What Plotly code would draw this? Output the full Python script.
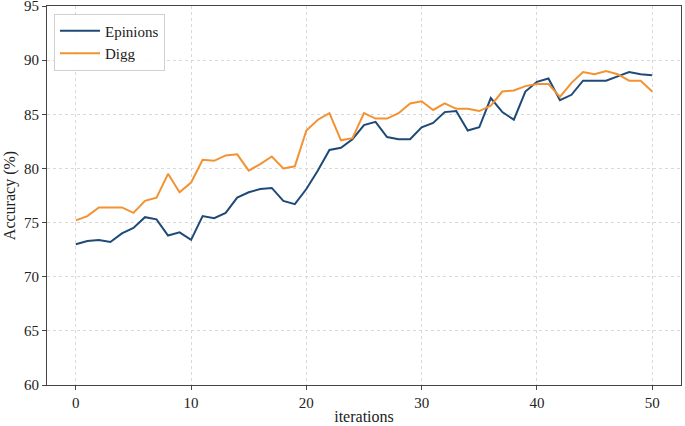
import plotly.graph_objects as go

iterations = list(range(51))
epinions = [73.0, 73.3, 73.4, 73.2, 74.0, 74.5, 75.5, 75.3, 73.8, 74.1,
            73.4, 75.6, 75.4, 75.9, 77.3, 77.8, 78.1, 78.2, 77.0, 76.7,
            78.1, 79.8, 81.7, 81.9, 82.7, 84.0, 84.3, 82.9, 82.7, 82.7,
            83.8, 84.2, 85.2, 85.3, 83.5, 83.8, 86.5, 85.2, 84.5, 87.1,
            88.0, 88.3, 86.3, 86.8, 88.1, 88.1, 88.1, 88.5, 88.9, 88.7,
            88.6]
digg = [75.2, 75.6, 76.4, 76.4, 76.4, 75.9, 77.0, 77.3, 79.5, 77.8,
        78.7, 80.8, 80.7, 81.2, 81.3, 79.8, 80.4, 81.1, 80.0, 80.2,
        83.5, 84.5, 85.1, 82.6, 82.8, 85.1, 84.6, 84.6, 85.1, 86.0,
        86.2, 85.4, 86.0, 85.5, 85.5, 85.3, 85.8, 87.1, 87.2, 87.6,
        87.8, 87.8, 86.6, 87.9, 88.9, 88.7, 89.0, 88.7, 88.1, 88.1,
        87.1]

FONT = "Liberation Serif"

fig = go.Figure()
fig.add_trace(go.Scatter(x=iterations, y=epinions, mode="lines", name="Epinions",
                         line=dict(color="#1f4a78", width=2)))
fig.add_trace(go.Scatter(x=iterations, y=digg, mode="lines", name="Digg",
                         line=dict(color="#f39232", width=2)))

axis_common = dict(showline=True, linecolor="#444444", linewidth=1, mirror=True,
                   ticks="outside", ticklen=4, tickcolor="#444444",
                   showgrid=True, gridcolor="#d9d9d9", griddash="3px,3px", gridwidth=1,
                   zeroline=False, automargin=False, ticklabeloverflow="allow",
                   tickfont=dict(family=FONT, size=15, color="#222222"))

fig.update_layout(
    width=685, height=426,
    margin=dict(l=47, r=4, t=6, b=41),
    paper_bgcolor="white", plot_bgcolor="white",
    font=dict(family=FONT, size=15, color="#222222"),
    xaxis=dict(range=[-2.5, 52.5], tickvals=[0, 10, 20, 30, 40, 50],
               title=dict(text="iterations", font=dict(family=FONT, size=16), standoff=0),
               **axis_common),
    yaxis=dict(range=[60, 95], tickvals=[60, 65, 70, 75, 80, 85, 90, 95],
               title=dict(text="Accuracy (%)", font=dict(family=FONT, size=16), standoff=4),
               **axis_common),
    legend=dict(x=0.011, y=0.98, xanchor="left", yanchor="top", itemwidth=40,
                bgcolor="rgba(255,255,255,0.9)", bordercolor="#d0d0d0", borderwidth=1,
                font=dict(family=FONT, size=15)),
    showlegend=True,
)

fig.write_html("out.html", config={"displayModeBar": False},
               post_script="document.body.style.margin='0';document.body.style.overflow='hidden';")
